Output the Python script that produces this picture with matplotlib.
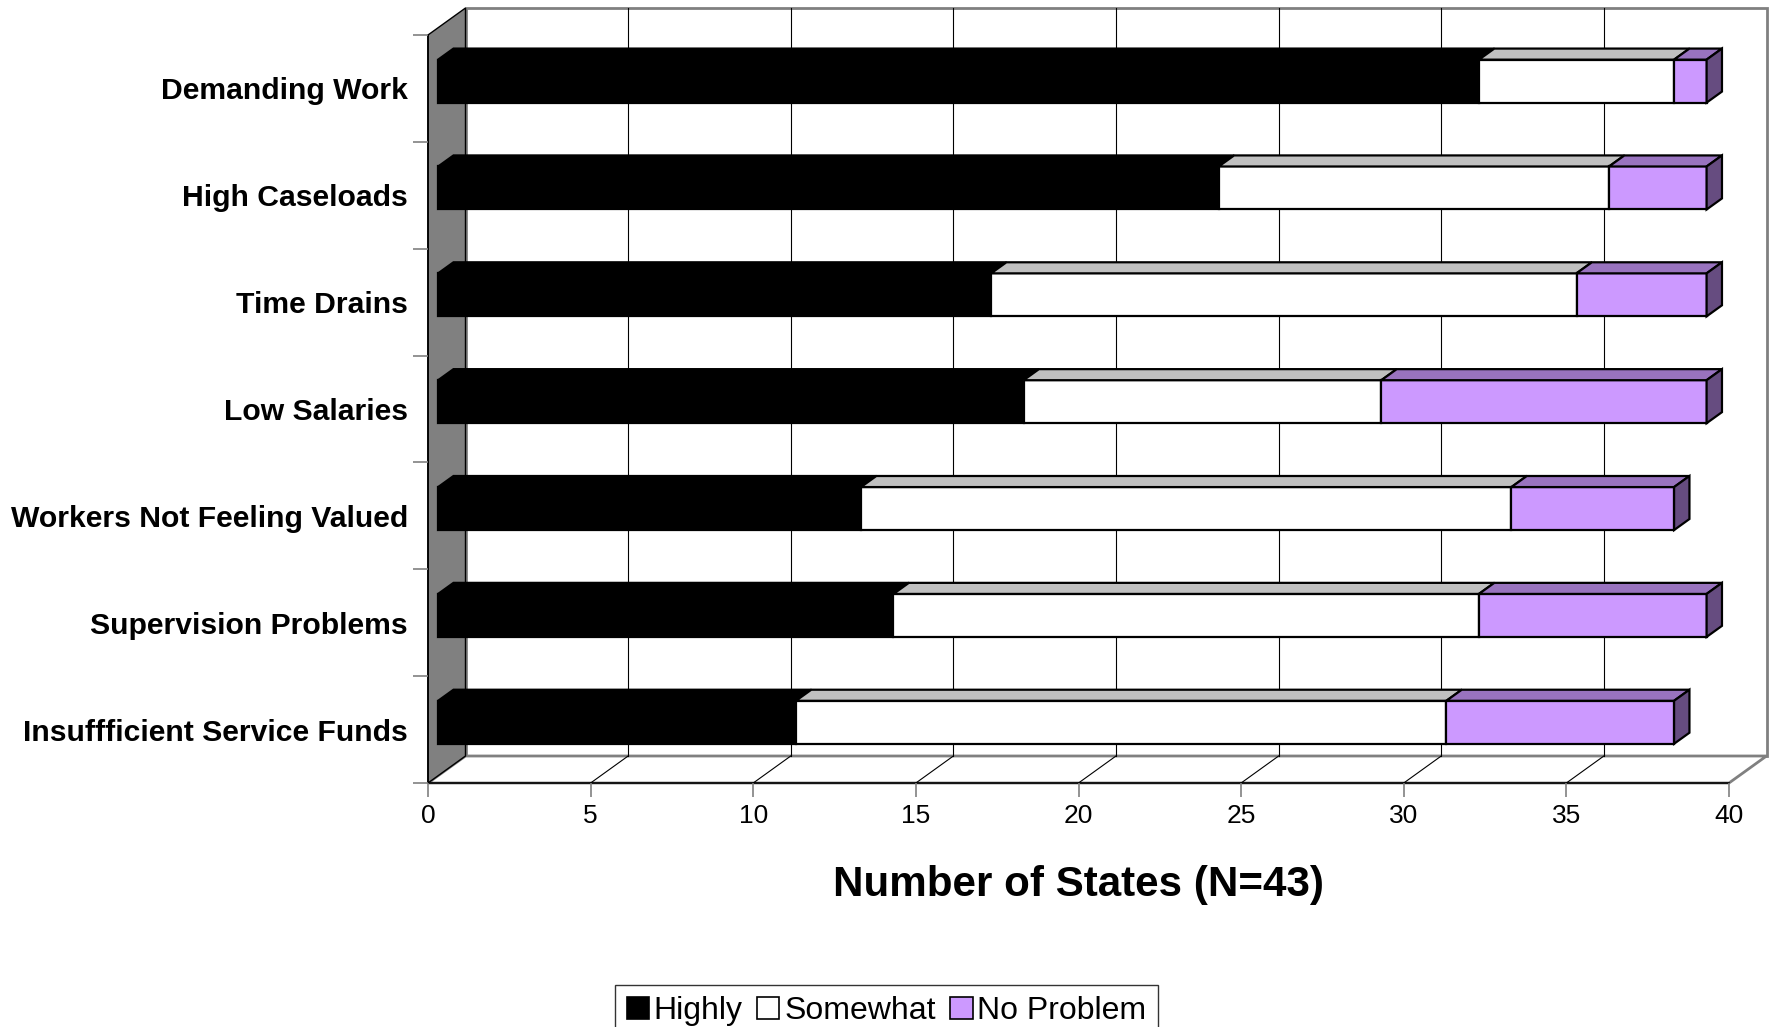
import matplotlib
matplotlib.use("Agg")
import matplotlib.pyplot as plt
from matplotlib.patches import Polygon, Patch
from matplotlib.lines import Line2D
from matplotlib.transforms import Affine2D

plt.rcParams["font.family"] = ["Liberation Sans", "DejaVu Sans"]

# ---- data -----------------------------------------------------------------
categories = [
    "Demanding Work",
    "High Caseloads",
    "Time Drains",
    "Low Salaries",
    "Workers Not Feeling Valued",
    "Supervision Problems",
    "Insuffficient Service Funds",
]
highly = [32, 24, 17, 18, 13, 14, 11]
somewhat = [6, 12, 18, 11, 20, 18, 20]
no_problem = [1, 3, 4, 10, 5, 7, 7]
series_names = ["Highly", "Somewhat", "No Problem"]
x_ticks = [0, 5, 10, 15, 20, 25, 30, 35, 40]
x_label = "Number of States (N=43)"

# ---- style ----------------------------------------------------------------
front_colors = ["#000000", "#FFFFFF", "#CC99FF"]
top_colors = ["#000000", "#C0C0C0", "#9973BF"]
side_colors = ["#000000", "#808080", "#664C80"]
wall_gray = "#808080"

W, H = 1773, 1027
fig = plt.figure(figsize=(W / 100, H / 100), dpi=100)
ax_l, ax_r, ax_t, ax_b = 428, 1729, 35, 783
ax = fig.add_axes([ax_l / W, 1 - ax_b / H, (ax_r - ax_l) / W, (ax_b - ax_t) / H])
ax.set_facecolor("none")

n = len(categories)
xmax = x_ticks[-1]
ax.set_xlim(0, xmax)
ax.set_ylim(0, n)

# depth of the 3-D box, expressed in data units
px_x = (ax_r - ax_l) / xmax
px_y = (ax_b - ax_t) / n
DX = 37.5 / px_x
DY = 27.0 / px_y
z0, z1 = 0.27, 0.68          # front / back of the bars inside the box
bar_h = 43.0 / px_y


def P(x, y, z):
    return (x + z * DX, y + z * DY)


def poly(pts, fc, ec, lw, zorder):
    ax.add_patch(Polygon(pts, closed=True, facecolor=fc, edgecolor=ec,
                         linewidth=lw, zorder=zorder, clip_on=False,
                         joinstyle="miter"))


# walls and floor
poly([P(0, 0, 1), P(xmax, 0, 1), P(xmax, n, 1), P(0, n, 1)],
     "white", wall_gray, 2.0, 0.5)
poly([P(0, 0, 0), P(xmax, 0, 0), P(xmax, 0, 1), P(0, 0, 1)],
     "white", wall_gray, 2.0, 0.6)
poly([P(0, 0, 0), P(0, 0, 1), P(0, n, 1), P(0, n, 0)],
     wall_gray, "black", 1.0, 0.7)

# gridlines on back wall and floor
for v in x_ticks[1:-1]:
    ax.add_line(Line2D(*zip(P(v, 0, 1), P(v, n, 1)), color="black",
                       lw=0.8, zorder=1.0, clip_on=False))
    ax.add_line(Line2D(*zip(P(v, 0, 0), P(v, 0, 1)), color="black",
                       lw=0.8, zorder=1.0, clip_on=False))

# bars
series = [highly, somewhat, no_problem]
shift = Affine2D().translate(z0 * DX, z0 * DY) + ax.transData
y_centers = [n - 1 - i + 0.5 for i in range(n)]
lw_bar = 1.6
for i, yc in enumerate(y_centers):
    yb, yt = yc - bar_h / 2, yc + bar_h / 2
    left = 0
    for s, vals in enumerate(series):
        v = vals[i]
        r = left + v
        ax.barh(yc, v, left=left, height=bar_h, color=front_colors[s],
                edgecolor="black", linewidth=lw_bar, transform=shift,
                zorder=3 + s * 0.01, clip_on=False)
        poly([P(left, yt, z0), P(r, yt, z0), P(r, yt, z1), P(left, yt, z1)],
             top_colors[s], "black", lw_bar, 3 + s * 0.01)
        if s == len(series) - 1:
            poly([P(r, yb, z0), P(r, yb, z1), P(r, yt, z1), P(r, yt, z0)],
                 side_colors[s], "black", lw_bar, 3.1)
        left = r

# axes styling
for sp in ["top", "right"]:
    ax.spines[sp].set_visible(False)
ax.spines["left"].set_color("black")
ax.spines["bottom"].set_color("black")
ax.spines["left"].set_zorder(1.2)
ax.spines["bottom"].set_zorder(1.2)
ax.spines["left"].set_linewidth(1.2)
ax.spines["bottom"].set_linewidth(1.2)

ax.set_xticks(x_ticks)
ax.set_xticklabels([str(t) for t in x_ticks], fontsize=19)
ax.tick_params(axis="x", length=10, width=1.2, color=wall_gray,
               labelcolor="black", pad=5)

ax.set_yticks(y_centers)
ax.set_yticklabels(categories, fontsize=21.7, fontweight="bold")
ax.tick_params(axis="y", which="major", length=0, pad=14.4)
ax.set_yticks(range(n + 1), minor=True)
ax.tick_params(axis="y", which="minor", length=10.8, width=1.2,
               color=wall_gray, direction="out")

ax.set_xlabel(x_label, fontsize=30.3, fontweight="bold", labelpad=27)

# legend
handles = [Patch(facecolor=front_colors[s], edgecolor="black", linewidth=1.2,
                 label=series_names[s]) for s in range(3)]
leg = fig.legend(handles=handles, loc="upper center", ncol=3,
                 bbox_to_anchor=(886.5 / W, 1 - 985 / H), fontsize=23,
                 frameon=True, fancybox=False, shadow=False,
                 handlelength=0.7, handleheight=0.7, handletextpad=0.15,
                 columnspacing=0.45, borderpad=0.35, borderaxespad=0)
leg.get_frame().set_edgecolor("black")
leg.get_frame().set_linewidth(1.0)

fig.savefig("out.png", dpi=100)
